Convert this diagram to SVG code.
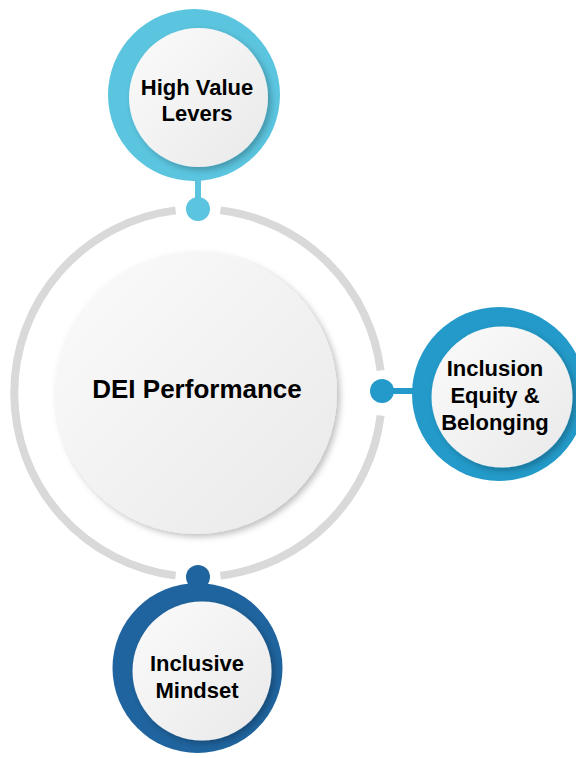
<svg xmlns="http://www.w3.org/2000/svg" width="576" height="758" viewBox="0 0 576 758">
<defs>
<linearGradient id="fillG" x1="0" y1="0" x2="1" y2="1">
<stop offset="0" stop-color="#fbfbfb"/>
<stop offset="1" stop-color="#e9e9e9"/>
</linearGradient>
<filter id="sh" x="-20%" y="-20%" width="140%" height="140%">
<feDropShadow dx="3" dy="3" stdDeviation="3" flood-color="#000" flood-opacity="0.25"/>
</filter>
<style>
.lbl{font-family:"Liberation Sans",Arial,sans-serif;font-weight:bold;font-size:22px;fill:#000;text-anchor:middle}
.ring{fill:none;stroke:#d9d9d9;stroke-width:8}
.inner{fill:url(#fillG);filter:url(#sh)}
</style>
</defs>
<rect width="576" height="758" fill="#fff"/>
<g id="connectors">
<path class="ring" d="M220.4 210.4 A184 184 0 0 1 380.6 370.6"/>
<path class="ring" d="M380.6 415.4 A184 184 0 0 1 220.4 575.6"/>
<path class="ring" d="M175.6 575.6 A184 184 0 0 1 175.6 210.4"/>
<line x1="198" y1="176" x2="198" y2="210" stroke="#5bc5df" stroke-width="6"/>
<circle cx="198" cy="209" r="12" fill="#5bc5df"/>
<line x1="382" y1="391" x2="418" y2="391" stroke="#239ac9" stroke-width="6"/>
<circle cx="382" cy="391" r="12" fill="#239ac9"/>
<circle cx="198" cy="577" r="12" fill="#1f649e"/>
</g>
<g id="center">
<circle class="inner" cx="196" cy="393" r="141"/>
<text class="lbl" x="197" y="398" style="font-size:26px">DEI Performance</text>
</g>
<g id="node-top">
<circle cx="194" cy="95" r="86" fill="#5bc5df"/>
<circle class="inner" cx="198.5" cy="97.5" r="69.5"/>
<text class="lbl" x="197" y="95">High Value</text>
<text class="lbl" x="197" y="121">Levers</text>
</g>
<g id="node-right">
<circle cx="499" cy="394" r="87" fill="#239ac9"/>
<circle class="inner" cx="502" cy="397" r="70.5"/>
<text class="lbl" x="495" y="376">Inclusion</text>
<text class="lbl" x="495" y="403">Equity &amp;</text>
<text class="lbl" x="495" y="430">Belonging</text>
</g>
<g id="node-bottom">
<circle cx="197.5" cy="668" r="85" fill="#1f649e"/>
<circle class="inner" cx="202" cy="671" r="69.5"/>
<text class="lbl" x="197" y="671">Inclusive</text>
<text class="lbl" x="197" y="698">Mindset</text>
</g>
</svg>
